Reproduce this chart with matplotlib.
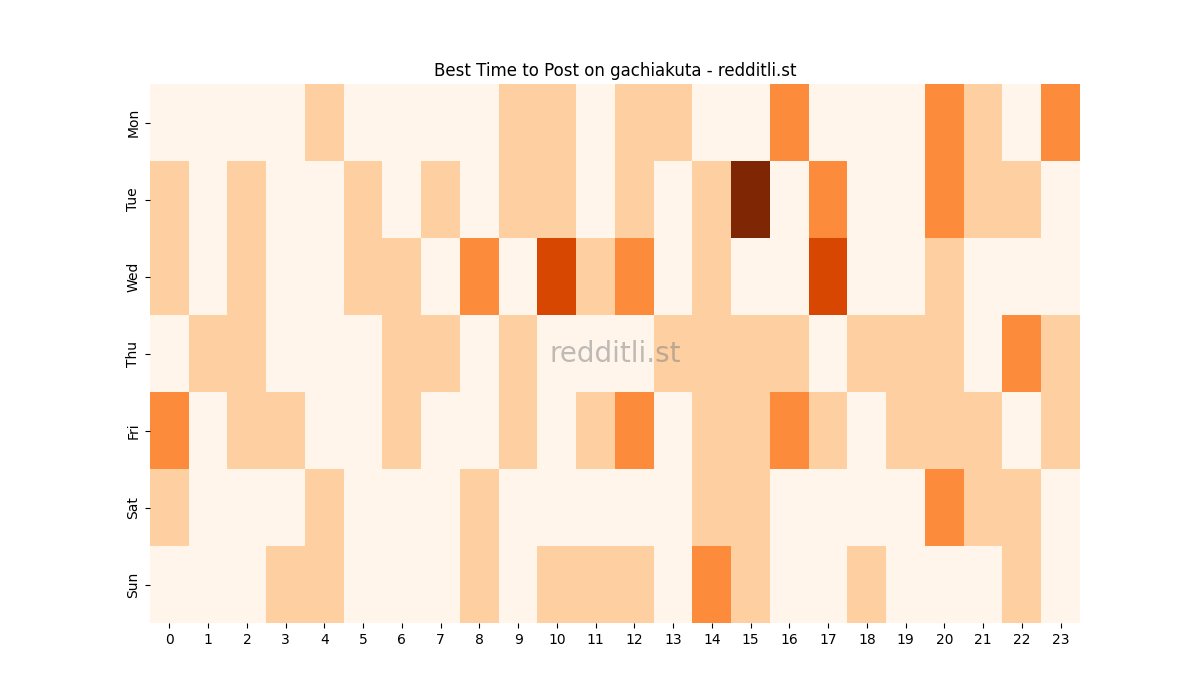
import numpy as np
import matplotlib
matplotlib.use("Agg")
import matplotlib.pyplot as plt

days = ["Mon", "Tue", "Wed", "Thu", "Fri", "Sat", "Sun"]
hours = [str(h) for h in range(24)]

mon = [0,0,0,0,1,0,0,0,0,1,1,0,1,1,0,0,2,0,0,0,2,1,0,2]
tue = [1,0,1,0,0,1,0,1,0,1,1,0,1,0,1,4,0,2,0,0,2,1,1,0]
wed = [1,0,1,0,0,1,1,0,2,0,3,1,2,0,1,0,0,3,0,0,1,0,0,0]
thu = [0,1,1,0,0,0,1,1,0,1,0,0,0,1,1,1,1,0,1,1,1,0,2,1]
fri = [2,0,1,1,0,0,1,0,0,1,0,1,2,0,1,1,2,1,0,1,1,1,0,1]
sat = [1,0,0,0,1,0,0,0,1,0,0,0,0,0,1,1,0,0,0,0,2,1,1,0]
sun = [0,0,0,1,1,0,0,0,1,0,1,1,1,0,2,1,0,0,1,0,0,0,1,0]

grid = np.array([mon, tue, wed, thu, fri, sat, sun])

fig, ax = plt.subplots(figsize=(12, 7), dpi=100)
ax.imshow(grid, cmap="Oranges", vmin=0, vmax=4, aspect="auto", interpolation="nearest")
ax.set_xticks(range(24))
ax.set_xticklabels(hours)
ax.set_yticks(range(7))
ax.set_yticklabels(days, rotation=90, va="center")
for s in ax.spines.values():
    s.set_visible(False)
ax.set_title("Best Time to Post on gachiakuta - redditli.st")
ax.text(0.5, 0.5, "redditli.st", transform=ax.transAxes, ha="center", va="center",
        fontsize=20, color="gray", alpha=0.5)
plt.savefig("out.png")
